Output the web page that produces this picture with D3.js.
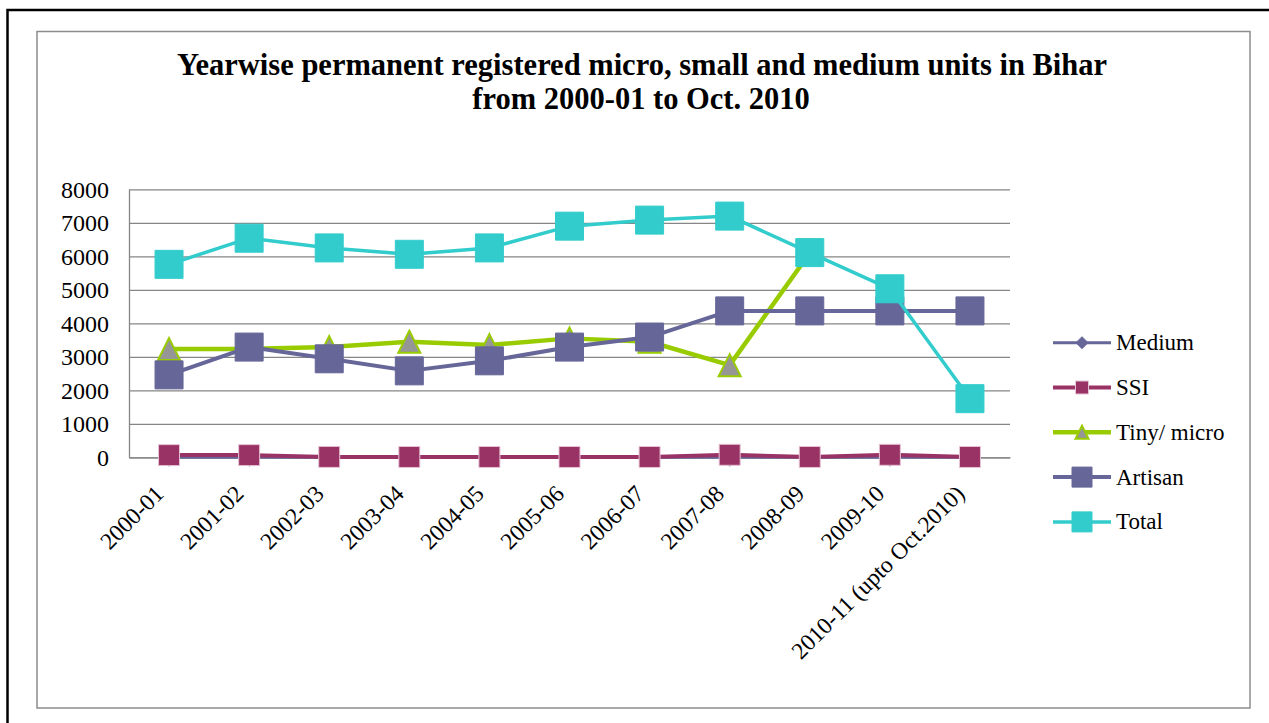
<!DOCTYPE html>
<html lang="en">
<head>
    <meta charset="UTF-8">
    <script src="https://cdn.jsdelivr.net/npm/d3@7"></script>
    <title>Yearwise permanent registered micro, small and medium units in Bihar</title>
    <style>
        html,
        body {
            margin: 0px;
            padding: 0px;
            background-color: #ffffff;
        }
        svg text {
            font-family: "Liberation Serif", "Times New Roman", serif;
            fill: #000;
        }
    </style>
</head>
<body>
    <div id="chart"></div>
    <script>

        let categories = ['2000-01', '2001-02', '2002-03', '2003-04', '2004-05', '2005-06',
            '2006-07', '2007-08', '2008-09', '2009-10', '2010-11 (upto Oct.2010)'];

        let medium  = [2, 2, 1, 1, 1, 1, 1, 2, 1, 2, 1];
        let ssi     = [65, 65, 12, 10, 10, 10, 10, 75, 10, 75, 10];
        let tiny    = [3230, 3235, 3290, 3450, 3350, 3550, 3450, 2750, 6100, null, null];
        let artisan = [2460, 3290, 2940, 2580, 2880, 3290, 3590, 4370, 4370, 4370, 4370];
        let total   = [5760, 6540, 6250, 6060, 6250, 6900, 7080, 7200, 6110, 5030, 1750];

        let yTicks = [0, 1000, 2000, 3000, 4000, 5000, 6000, 7000, 8000];

        let series = [
            { name: 'Medium', values: medium, colour: '#666699', lineWidth: 3, marker: 'diamond', size: 18, legendSize: 12, fill: '#666699', stroke: '#666699' },
            { name: 'SSI', values: ssi, colour: '#993366', lineWidth: 4, marker: 'square', size: 21, legendSize: 13, fill: '#993366', stroke: '#e6c4d4' },
            { name: 'Tiny/ micro', values: tiny, colour: '#99cc00', lineWidth: 4.5, marker: 'triangle', size: 22, legendSize: 13, fill: '#969696', stroke: '#99cc00' },
            { name: 'Artisan', values: artisan, colour: '#666699', lineWidth: 4, marker: 'square', size: 28, legendSize: 20, fill: '#666699', stroke: '#666699' },
            { name: 'Total', values: total, colour: '#33cccc', lineWidth: 3.5, marker: 'square', size: 28, legendSize: 20, fill: '#33cccc', stroke: '#33cccc' }
        ];

        let width = 1269;
        let height = 723;

        let svg = d3.select('#chart').append('svg').attr('width', width).attr('height', height);

        // outer black frame (runs off the picture at right/bottom)
        svg.append('rect')
            .attr('x', 7.5).attr('y', 10)
            .attr('width', 1400).attr('height', 900)
            .attr('fill', 'none')
            .attr('stroke', '#000')
            .attr('stroke-width', 2.5);

        // chart area border
        svg.append('rect')
            .attr('x', 37).attr('y', 31.5)
            .attr('width', 1213).attr('height', 676.5)
            .attr('fill', '#fff')
            .attr('stroke', '#8c8c8c')
            .attr('stroke-width', 1.5);

        svg.append('text')
            .attr('x', 642).attr('y', 75)
            .attr('text-anchor', 'middle')
            .style('font-size', '30.5px')
            .style('font-weight', 'bold')
            .text('Yearwise permanent registered micro, small and medium units in Bihar');

        svg.append('text')
            .attr('x', 641).attr('y', 109)
            .attr('text-anchor', 'middle')
            .style('font-size', '30.5px')
            .style('font-weight', 'bold')
            .text('from 2000-01 to Oct. 2010');

        let x = d3.scaleBand().domain(categories).range([129, 1010]);
        let y = d3.scaleLinear().domain([0, 8000]).range([457.3, 189.3]);

        // y axis + gridlines
        let yAxis = svg.append('g')
            .attr('transform', 'translate(129,0)')
            .call(d3.axisLeft(y).tickValues(yTicks).tickFormat(d3.format('d'))
                .tickSize(-(1010 - 129)).tickSizeOuter(0).tickPadding(20));
        yAxis.selectAll('.tick line').attr('stroke', '#868686').attr('stroke-width', 1.3);
        yAxis.select('.domain').attr('stroke', '#868686').attr('stroke-width', 1.3);
        yAxis.selectAll('.tick text')
            .style('font-size', '24px')
            .attr('dy', '0.34em');

        // x axis
        let xAxis = svg.append('g')
            .attr('transform', 'translate(0,457.3)')
            .call(d3.axisBottom(x).tickSize(0).tickSizeOuter(0));
        xAxis.select('.domain').attr('stroke', '#868686').attr('stroke-width', 1.3);
        xAxis.selectAll('.tick text')
            .style('font-size', '23.5px')
            .attr('x', 0).attr('y', 0).attr('dy', 0)
            .attr('text-anchor', 'end')
            .attr('transform', 'translate(-4,38) rotate(-45)');

        function markerPath(type, s) {
            let h = s / 2;
            if (type === 'square') return `M${-h},${-h}H${h}V${h}H${-h}Z`;
            if (type === 'triangle') return `M0,${-h}L${h},${h}L${-h},${h}Z`;
            return `M0,${-h}L${h},0L0,${h}L${-h},0Z`;
        }

        let line = d3.line()
            .defined(d => d != null)
            .x((d, i) => x(categories[i]) + x.bandwidth() / 2)
            .y(d => y(d));

        series.forEach(s => {
            let g = svg.append('g');
            g.append('path')
                .attr('d', line(s.values))
                .attr('fill', 'none')
                .attr('stroke', s.colour)
                .attr('stroke-width', s.lineWidth)
                .attr('stroke-linejoin', 'round');
            g.selectAll('path.marker')
                .data(s.values.map((v, i) => ({ v: v, c: categories[i] })).filter(d => d.v != null))
                .join('path')
                .attr('class', 'marker')
                .attr('transform', d => `translate(${x(d.c) + x.bandwidth() / 2},${y(d.v)})`)
                .attr('d', markerPath(s.marker, s.size))
                .attr('fill', s.fill)
                .attr('stroke', s.stroke)
                .attr('stroke-width', s.marker === 'triangle' ? 2 : 1);
        });

        // legend
        let legend = svg.append('g');
        series.forEach((s, i) => {
            let ly = 342.7 + i * 44.8;
            let item = legend.append('g').attr('transform', `translate(0,${ly})`);
            item.append('line')
                .attr('x1', 1053).attr('x2', 1111)
                .attr('stroke', s.colour)
                .attr('stroke-width', s.lineWidth);
            item.append('path')
                .attr('transform', 'translate(1082,0)')
                .attr('d', markerPath(s.marker, s.legendSize))
                .attr('fill', s.fill)
                .attr('stroke', s.stroke)
                .attr('stroke-width', s.marker === 'triangle' ? 2 : 1);
            item.append('text')
                .attr('x', 1116).attr('y', 7.5)
                .style('font-size', '23px')
                .text(s.name);
        });

    </script>
</body>
</html>
